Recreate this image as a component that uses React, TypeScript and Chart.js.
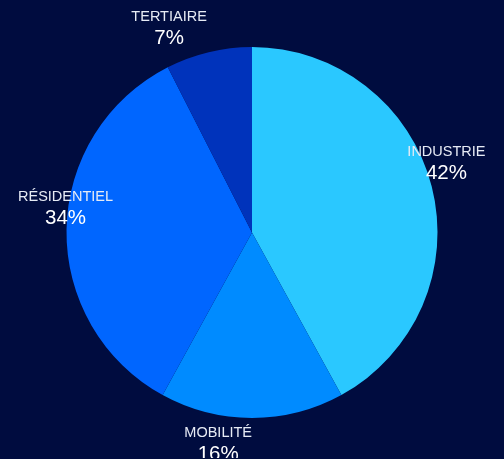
import React, { useEffect, useRef } from 'react';
import { Chart, registerables } from 'chart.js';

Chart.register(...registerables);

const categories = ['INDUSTRIE', 'MOBILITÉ', 'RÉSIDENTIEL', 'TERTIAIRE'];
const shares = [42, 16, 34.5, 7.5];
const sliceColors = ['#2ac8ff', '#008bff', '#0066ff', '#0033bb'];
const background = '#000c3f';

const FONT = '"Liberation Sans", Arial, Helvetica, sans-serif';

const outerLabels = {
  id: 'outerLabels',
  afterDatasetsDraw(chart: any) {
    const ctx = chart.ctx as CanvasRenderingContext2D;
    const meta = chart.getDatasetMeta(0);
    const data = chart.data.datasets[0].data as number[];
    meta.data.forEach((arc: any, i: number) => {
      const p = arc.getProps(['x', 'y', 'startAngle', 'endAngle', 'outerRadius'], true);
      const mid = (p.startAngle + p.endAngle) / 2;
      const rr = p.outerRadius + 8;
      const ax = p.x + Math.cos(mid) * rr;
      const ay = p.y + Math.sin(mid) * rr;
      const name = String(chart.data.labels[i]);
      const pct = Math.floor(data[i]) + '%';
      ctx.save();
      ctx.font = `14.5px ${FONT}`;
      const w1 = ctx.measureText(name).width;
      ctx.font = `20.5px ${FONT}`;
      const w2 = ctx.measureText(pct).width;
      const w = Math.max(w1, w2);
      const cap = 10.5;
      const gap = 23;
      const side = Math.abs(Math.cos(mid)) > Math.abs(Math.sin(mid));
      let cx: number;
      let top: number;
      if (side) {
        cx = ax + 7;
        top = ay - 5 - (cap + gap);
      } else {
        cx = ax - w / 2;
        top = Math.sin(mid) < 0 ? ay - (cap + gap) : ay;
      }
      ctx.textAlign = 'center';
      ctx.textBaseline = 'alphabetic';
      ctx.fillStyle = '#e6ebf5';
      ctx.font = `14.5px ${FONT}`;
      ctx.fillText(name, cx, top + cap);
      ctx.fillStyle = '#ffffff';
      ctx.font = `20.5px ${FONT}`;
      ctx.fillText(pct, cx, top + cap + gap);
      ctx.restore();
    });
  },
};

export default function App() {
  const ref = useRef<HTMLCanvasElement | null>(null);
  useEffect(() => {
    document.body.style.backgroundColor = background;
    if (!ref.current) return;
    const chart = new Chart(ref.current, {
      type: 'pie',
      data: {
        labels: categories,
        datasets: [
          {
            data: shares,
            backgroundColor: sliceColors,
            borderWidth: 0,
          },
        ],
      },
      options: {
        animation: false,
        responsive: true,
        maintainAspectRatio: false,
        layout: { padding: { top: 39, bottom: 40, left: 0, right: 0 } },
        plugins: {
          legend: { display: false },
          tooltip: { enabled: false },
        },
      },
      plugins: [outerLabels],
    });
    return () => chart.destroy();
  }, []);
  return (
    <div style={{ position: 'relative', width: '100%', height: 450 }}>
      <canvas ref={ref} />
    </div>
  );
}
